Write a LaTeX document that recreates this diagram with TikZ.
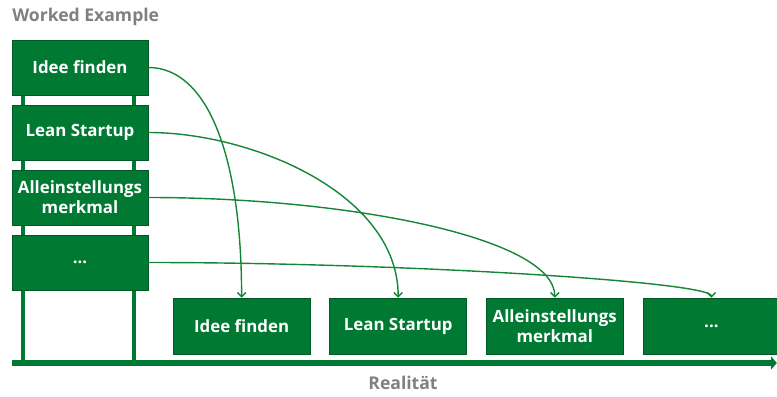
\documentclass[tikz,border=0pt]{standalone}
\usepackage{fontspec}
\setmainfont{Open Sans}
\usetikzlibrary{arrows.meta, positioning}
\definecolor{boxgreen}{RGB}{0,122,51}
\definecolor{edgegreen}{RGB}{0,88,36}
\definecolor{linegreen}{RGB}{20,135,55}
\definecolor{labelgrey}{RGB}{128,128,128}
\tikzstyle{worked} = [
    rectangle, 
    minimum width=3.4cm, 
    minimum height=1.375cm,
    align=center, 
    draw=edgegreen, 
    fill=boxgreen,
    text=white,
    font=\bfseries\fontsize{12}{14}\selectfont
]
\tikzstyle{real} = [
    worked,
    minimum width=3.425cm, 
    minimum height=1.4cm
]
\tikzstyle{caption} = [
    text=labelgrey,
    font=\bfseries\fontsize{12.5}{14}\selectfont
]
\tikzstyle{post} = [draw=boxgreen, line width=2.4pt]
\tikzstyle{axis} = [draw=boxgreen, line width=4pt, -{Triangle[length=4pt,width=9pt]}]
\tikzstyle{arrow} = [draw=linegreen, line width=1pt, -{Straight Barb[length=3pt,width=6pt]}]
\begin{document}
\begin{tikzpicture}[node distance=1.625cm]
\useasboundingbox (0,0) rectangle (19.425,9.9);

\node (title) [caption, anchor=west, inner sep=0pt] at (0.3,9.475) {Worked Example};

% timeline
\coordinate (axl) at (0.3,0.825);
\coordinate (axr) at (19.42,0.825);
\node (reality) [caption] at (10.075,0.325) {Realität};

% posts behind the worked example
\coordinate (p1top) at (0.575,8.9);
\coordinate (p2top) at (3.35,8.9);
\draw[post] (p1top) -- (p1top |- axl);
\draw[post] (p2top) -- (p2top |- axl);
\draw[axis] (axl) -- (axr);

\node (w1) [worked] at (2.0,8.2125) {Idee finden};
\node (w2) [worked, below of=w1] {Lean Startup};
\node (w3) [worked, below of=w2] {Alleinstellungs\\merkmal};
\node (w4) [worked, below of=w3] {...};

\node (r1) [real] at (6.04,1.75) {Idee finden};
\node (r2) [real, right of=r1, xshift=2.29cm] {Lean Startup};
\node (r3) [real, right of=r2, xshift=2.29cm] {Alleinstellungs\\merkmal};
\node (r4) [real, right of=r3, xshift=2.29cm] {...};

\draw[arrow] (w1.east) .. controls +(1.5,0) and +(0,3.5) .. (r1.north);
\draw[arrow] (w2.east) .. controls +(2.6,0) and +(0,2.6) .. (r2.north);
\draw[arrow] (w3.east) .. controls +(5,0) and +(0,1.5) .. (r3.north);
\draw[arrow] (w4.east) .. controls +(6.25,0) and +(0,0.4) .. (r4.north);

\end{tikzpicture}
\end{document}
